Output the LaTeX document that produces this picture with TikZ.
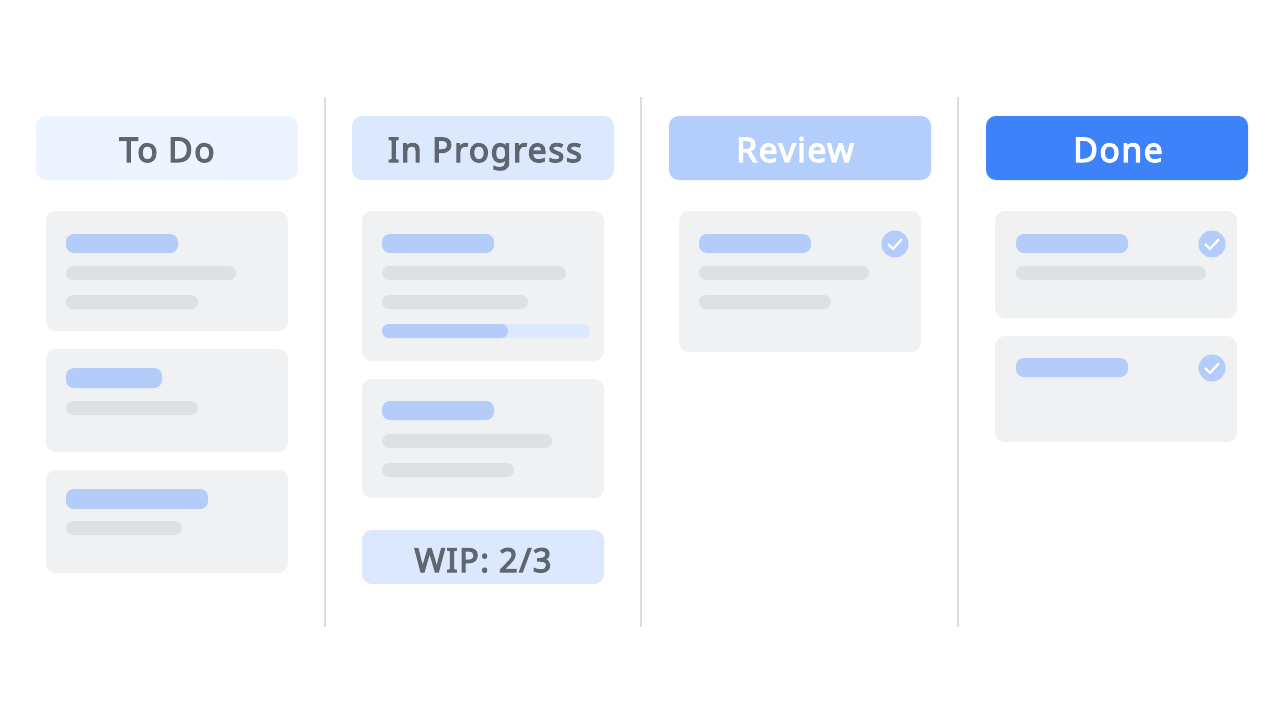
\documentclass[tikz,border=0pt]{standalone}
\usepackage{fontspec}
\setmainfont{Noto Sans}[BoldFont={Noto Sans},BoldFeatures={FakeBold=3.5,LetterSpace=4}]
\begin{document}
\begin{tikzpicture}[x=1pt,y=-1pt,
 hdr/.style={rounded corners=10pt},
 card/.style={fill=cardc,rounded corners=10pt},
 gbar/.style={fill=grayb,rounded corners=7pt},
 bbar/.style={fill=blueb,rounded corners=8pt},
 htext/.style={font=\fontsize{34}{40}\selectfont\bfseries,anchor=base},
 div/.style={draw=divc,line width=1.2pt}]
\definecolor{cardc}{HTML}{EFF1F3}
\definecolor{grayb}{HTML}{DEE1E4}
\definecolor{blueb}{HTML}{B3CCFA}
\definecolor{txt}{HTML}{5F6670}
\definecolor{divc}{HTML}{DADDE0}
\definecolor{h1}{HTML}{EEF4FF}
\definecolor{h2}{HTML}{DCE8FD}
\definecolor{h3}{HTML}{B3CEFB}
\definecolor{h4}{HTML}{3D82F9}
\definecolor{pbg}{HTML}{DCE8FD}
\useasboundingbox[fill=white] (0,0) rectangle (1284,725);
% dividers
\foreach \x in {325,641,958} \draw[div] (\x,97) -- (\x,627);
% headers
\fill[hdr,h1] (36,116) rectangle (298,180);
\node[htext,text=txt] (hTodo) at (167,162) {To Do};
\fill[hdr,h2] (352,116) rectangle (614,180);
\node[htext,text=txt] (hProg) at (485,162) {In Progress};
\fill[hdr,h3] (669,116) rectangle (931,180);
\node[htext,text=white] (hRev) at (795,162) {Review};
\fill[hdr,h4] (986,116) rectangle (1248,180);
\node[htext,text=white] (hDone) at (1118,162) {Done};
% column 1
\fill[card] (46,211) rectangle (288,331);
\fill[bbar] (66,234) rectangle (178,253);
\fill[gbar] (66,266) rectangle (236,280);
\fill[gbar] (66,295) rectangle (198,309);
\fill[card] (46,349) rectangle (288,452);
\fill[bbar] (66,368) rectangle (162,388);
\fill[gbar] (66,401) rectangle (198,415);
\fill[card] (46,470) rectangle (288,573);
\fill[bbar] (66,489) rectangle (208,509);
\fill[gbar] (66,521) rectangle (182,535);
% column 2
\fill[card] (362,211) rectangle (604,361);
\fill[bbar] (382,234) rectangle (494,253);
\fill[gbar] (382,266) rectangle (566,280);
\fill[gbar] (382,295) rectangle (528,309);
\fill[pbg,rounded corners=7pt] (382,324) rectangle (590,338);
\fill[blueb,rounded corners=7pt] (382,324) rectangle (508,338);
\fill[card] (362,379) rectangle (604,498);
\fill[bbar] (382,401) rectangle (494,420);
\fill[gbar] (382,434) rectangle (552,448);
\fill[gbar] (382,463) rectangle (514,477);
\fill[h2,rounded corners=10pt] (362,530) rectangle (604,584);
\node[font=\fontsize{33}{38}\selectfont\bfseries,text=txt,anchor=base] (wip) at (483,572) {WIP: 2/3};
% column 3
\fill[card] (679,211) rectangle (921,352);
\fill[bbar] (699,234) rectangle (811,253);
\fill[gbar] (699,266) rectangle (869,280);
\fill[gbar] (699,295) rectangle (831,309);
% column 4
\fill[card] (995,211) rectangle (1237,318);
\fill[bbar] (1016,234) rectangle (1128,253);
\fill[gbar] (1016,266) rectangle (1206,280);
\fill[card] (995,336) rectangle (1237,442);
\fill[bbar] (1016,358) rectangle (1128,377);
% checks
\foreach \cx/\cy in {895/244,1212/244,1212/368}{
 \fill[blueb] (\cx,\cy) circle (13.5);
 \draw[white,line width=2.2pt,line cap=round,line join=round] (\cx-6.5,\cy+0.5) -- (\cx-2,\cy+5) -- (\cx+6.5,\cy-4.5);
}
\end{tikzpicture}
\end{document}
